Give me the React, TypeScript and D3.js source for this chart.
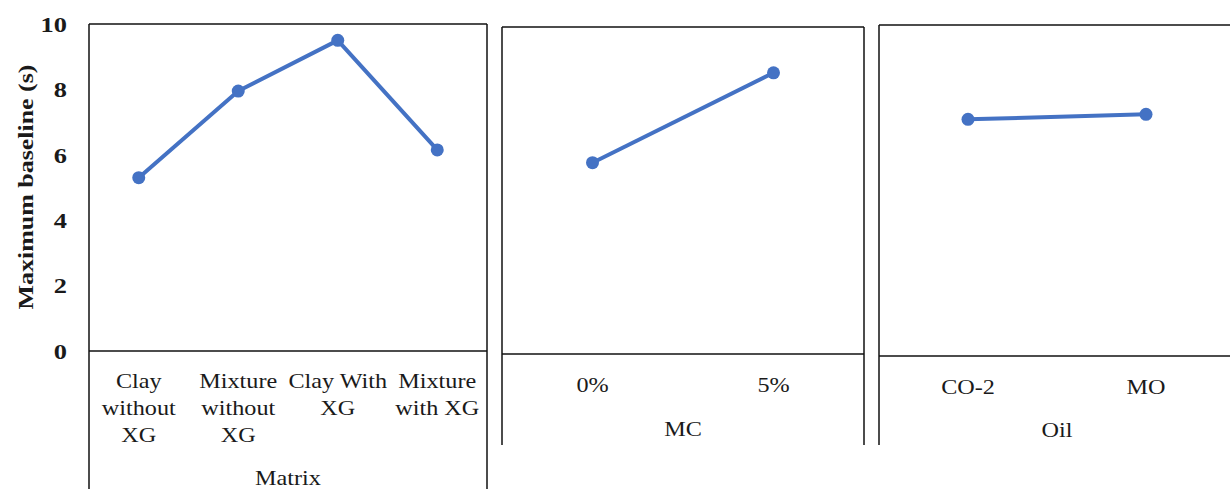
import React from "react";
import * as d3 from "d3";

// Factor levels and mean maximum baseline (s) for each factor
const matrixLevels = ["Clay without XG", "Mixture without XG", "Clay With XG", "Mixture with XG"];
const matrixLabelLines = [["Clay", "without", "XG"], ["Mixture", "without", "XG"], ["Clay With", "XG"], ["Mixture", "with XG"]];
const matrixValues = [5.3, 7.95, 9.5, 6.15];

const mcLevels = ["0%", "5%"];
const mcValues = [5.85, 8.6];

const oilLevels = ["CO-2", "MO"];
const oilValues = [7.15, 7.3];

const yTicks = [0, 2, 4, 6, 8, 10];

const BLUE = "#4472C4";
const SERIF = "'Liberation Serif', 'Times New Roman', serif";
const INK = "#1a1a1a";

type PanelProps = {
  levels: string[];
  lines: string[][];
  values: number[];
  title: string;
  x0: number;
  x1: number;
  top: number;
  zero: number;
  bottom: number;
  labelY: number;
  titleY: number;
};

function Panel({ levels, lines, values, title, x0, x1, top, zero, bottom, labelY, titleY }: PanelProps) {
  const x = d3.scaleBand<string>().domain(levels).range([x0, x1]);
  const y = d3.scaleLinear().domain([0, 10]).range([zero, top]);
  const pts: [number, number][] = levels.map((l, i) => [x(l)! + x.bandwidth() / 2, y(values[i])]);
  const path = d3.line()(pts) ?? "";
  return (
    <g>
      <line x1={x0} x2={x1} y1={top} y2={top} stroke="#111" strokeWidth={1.5} />
      <line x1={x0} x2={x1} y1={zero} y2={zero} stroke="#111" strokeWidth={1.5} />
      <line x1={x0} x2={x0} y1={top} y2={bottom} stroke="#111" strokeWidth={1.5} />
      <line x1={x1} x2={x1} y1={top} y2={bottom} stroke="#111" strokeWidth={1.5} />
      <path d={path} fill="none" stroke={BLUE} strokeWidth={4} strokeLinejoin="round" />
      {pts.map((p, i) => (
        <circle key={i} cx={p[0]} cy={p[1]} r={6.5} fill={BLUE} />
      ))}
      {levels.map((l, i) => (
        <g key={l} transform={`translate(${x(l)! + x.bandwidth() / 2},${labelY}) scale(1.1,1)`}>
          <text textAnchor="middle" fontFamily={SERIF} fontSize={22} fill={INK}>
            {lines[i].map((s, j) => (
              <tspan key={j} x={0} dy={j === 0 ? 0 : 27}>{s}</tspan>
            ))}
          </text>
        </g>
      ))}
      <g transform={`translate(${(x0 + x1) / 2},${titleY}) scale(1.1,1)`}>
        <text textAnchor="middle" fontFamily={SERIF} fontSize={22} fill={INK}>
          {title}
        </text>
      </g>
    </g>
  );
}

export default function App() {
  const yMain = d3.scaleLinear().domain([0, 10]).range([351, 24]);
  return (
    <svg width={1230} height={489} style={{ position: "absolute", left: 0, top: 0, background: "#fff" }}>
      <rect width={1230} height={489} fill="#fff" />
      {yTicks.map((t) => (
        <g key={t} transform={`translate(67,${yMain(t)}) scale(1.2,1)`}>
          <text dy="0.35em" textAnchor="end" fontFamily={SERIF} fontWeight="bold" fontSize={22} fill={INK}>
            {t}
          </text>
        </g>
      ))}
      <text transform="translate(25,187) rotate(-90)" textAnchor="middle" dy="0.35em" fontFamily={SERIF}
        fontWeight="bold" fontSize={22} fill={INK} textLength={245} lengthAdjust="spacingAndGlyphs">
        Maximum baseline (s)
      </text>
      <Panel levels={matrixLevels} lines={matrixLabelLines} values={matrixValues} title="Matrix"
        x0={89} x1={487} top={24} zero={351} bottom={489} labelY={388} titleY={485} />
      <Panel levels={mcLevels} lines={mcLevels.map((d) => [d])} values={mcValues} title="MC"
        x0={502} x1={864} top={27} zero={354} bottom={445} labelY={392} titleY={436} />
      <Panel levels={oilLevels} lines={oilLevels.map((d) => [d])} values={oilValues} title="Oil"
        x0={879} x1={1235} top={25} zero={356} bottom={445} labelY={394} titleY={437} />
    </svg>
  );
}
